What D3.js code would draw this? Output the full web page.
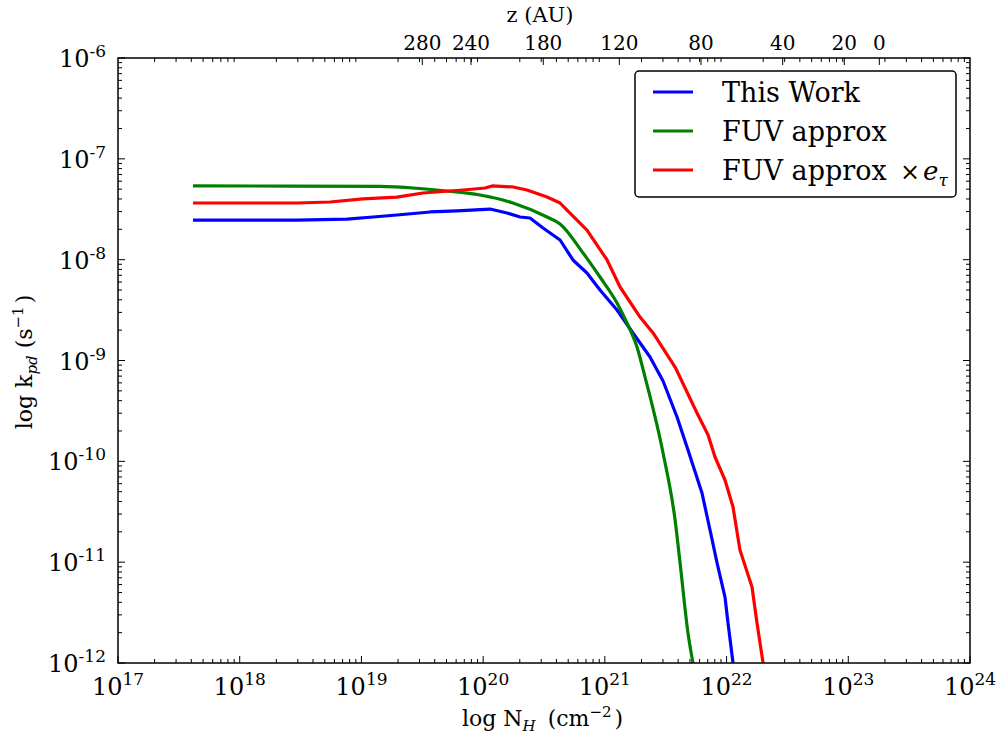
<!DOCTYPE html>
<html>
<head>
<meta charset="utf-8">
<script src="https://cdn.jsdelivr.net/npm/d3@7"></script>
<style>
  body { margin: 0; background: #fff; }
  svg text { font-family: "DejaVu Serif", serif; fill: #000; }
</style>
</head>
<body>
<svg id="chart" width="996" height="738"></svg>
<script>
// ---- data (log10 values) ----
const blueLogN  = [17.616,18.471,18.882,19.095,19.292,19.564,19.785,20.056,20.196,20.303,20.385,20.492,20.632,20.738,20.853,20.960,21.100,21.231,21.371,21.478,21.593,21.683,21.798,21.864,21.922,21.987,22.012,22.053];
const blueLogK  = [-7.607,-7.607,-7.597,-7.577,-7.557,-7.527,-7.517,-7.498,-7.537,-7.577,-7.587,-7.686,-7.805,-8.003,-8.132,-8.301,-8.499,-8.727,-8.965,-9.203,-9.560,-9.888,-10.314,-10.681,-11.008,-11.346,-11.604,-12.0];
const greenLogN = [17.616,18.400,19.153,19.450,19.703,19.974,20.245,20.525,20.632,20.821,20.960,21.100,21.182,21.264,21.330,21.478,21.577,21.618,21.683,21.724];
const greenLogK = [-7.269,-7.270,-7.274,-7.292,-7.319,-7.359,-7.438,-7.577,-7.646,-7.934,-8.172,-8.430,-8.628,-8.866,-9.164,-9.917,-10.582,-11.008,-11.703,-12.0];
const redLogN   = [17.616,18.471,18.742,19.013,19.292,19.506,19.835,20.015,20.073,20.245,20.360,20.525,20.632,20.689,20.853,21.018,21.125,21.289,21.396,21.577,21.757,21.848,21.905,21.987,22.053,22.110,22.209,22.250,22.300];
const redLogK   = [-7.438,-7.438,-7.428,-7.398,-7.379,-7.339,-7.309,-7.289,-7.269,-7.279,-7.309,-7.379,-7.438,-7.508,-7.706,-8.003,-8.271,-8.569,-8.727,-9.065,-9.521,-9.739,-9.957,-10.185,-10.453,-10.880,-11.246,-11.604,-12.0];

const seriesNames  = ["This Work", "FUV approx", "FUV approx"];
const seriesColors = ["#0000ff", "#008000", "#ff0000"];

const xTickExps = [17,18,19,20,21,22,23,24];
const yTickExps = [-6,-7,-8,-9,-10,-11,-12];
// top axis: z (AU) labels and their log10(N_H) positions
const zTickLabels = ["280","240","180","120","80","40","20","0"];
const zTickLogN   = [19.500,19.900,20.494,21.119,21.790,22.461,22.967,23.255];

// ---- layout ----
const L = 118, R = 970, T = 58, B = 663;
const svg = d3.select("#chart");
const x = d3.scaleLog().domain([1e17, 1e24]).range([L, R]);
const y = d3.scaleLog().domain([1e-12, 1e-6]).range([B, T]);

svg.append("defs").append("clipPath").attr("id","clip")
  .append("rect").attr("x",L).attr("y",T).attr("width",R-L).attr("height",B-T);

// minor tick values
const xMinor = [], yMinor = [];
for (let e = 17; e < 24; e++) for (let m = 2; m <= 9; m++) xMinor.push(m * Math.pow(10, e));
for (let e = -12; e < -6; e++) for (let m = 2; m <= 9; m++) yMinor.push(m * Math.pow(10, e));

const tickG = svg.append("g").attr("stroke", "#000").attr("stroke-width", 1);
const MAJ = 7, MIN = 4;
xTickExps.forEach(e => { const px = x(Math.pow(10,e)); tickG.append("line").attr("x1",px).attr("x2",px).attr("y1",B).attr("y2",B-MAJ); });
xMinor.forEach(v => { const px = x(v); tickG.append("line").attr("x1",px).attr("x2",px).attr("y1",B).attr("y2",B-MIN); });
xMinor.forEach(v => { const px = x(v); tickG.append("line").attr("x1",px).attr("x2",px).attr("y1",T).attr("y2",T+MIN); });
zTickLogN.forEach(l => { const px = x(Math.pow(10,l)); tickG.append("line").attr("x1",px).attr("x2",px).attr("y1",T).attr("y2",T+MAJ); });
yTickExps.forEach(e => { const py = y(Math.pow(10,e));
  tickG.append("line").attr("x1",L).attr("x2",L+MAJ).attr("y1",py).attr("y2",py);
  tickG.append("line").attr("x1",R).attr("x2",R-MAJ).attr("y1",py).attr("y2",py); });
yMinor.forEach(v => { const py = y(v);
  tickG.append("line").attr("x1",L).attr("x2",L+MIN).attr("y1",py).attr("y2",py);
  tickG.append("line").attr("x1",R).attr("x2",R-MIN).attr("y1",py).attr("y2",py); });

// ---- curves ----
const lineLin = d3.line().x(d => x(Math.pow(10, d[0]))).y(d => y(Math.pow(10, d[1])));
const lineSmooth = d3.line().curve(d3.curveMonotoneX)
  .x(d => x(Math.pow(10, d[0]))).y(d => y(Math.pow(10, d[1])));
const series = [
  d3.zip(blueLogN, blueLogK),
  d3.zip(greenLogN, greenLogK),
  d3.zip(redLogN, redLogK)
];
const curveG = svg.append("g").attr("clip-path", "url(#clip)");
series.forEach((s, i) => {
  curveG.append("path").datum(s).attr("d", i === 1 ? lineSmooth : lineLin)
    .attr("fill","none").attr("stroke", seriesColors[i]).attr("stroke-width", 3.2)
    .attr("stroke-linejoin","round");
});

// frame
svg.append("rect").attr("x",L).attr("y",T).attr("width",R-L).attr("height",B-T)
  .attr("fill","none").attr("stroke","#000").attr("stroke-width",1.5);

// ---- tick labels ----
xTickExps.forEach(e => {
  const t = svg.append("text").attr("x", x(Math.pow(10,e))).attr("y", 695)
    .attr("text-anchor","middle").attr("font-size", 24);
  t.append("tspan").text("10");
  t.append("tspan").attr("font-size", 17).attr("dy", -10).text(String(e));
});
yTickExps.forEach(e => {
  const t = svg.append("text").attr("x", 106).attr("y", y(Math.pow(10,e)) + 9)
    .attr("text-anchor","end").attr("font-size", 24);
  t.append("tspan").text("10");
  t.append("tspan").attr("font-size", 17).attr("dy", -10).text(String(e));
});
zTickLabels.forEach((lab, i) => {
  svg.append("text").attr("x", x(Math.pow(10, zTickLogN[i]))).attr("y", 50)
    .attr("text-anchor","middle").attr("font-size", 20).text(lab);
});

// ---- axis labels ----
const xl = svg.append("text").attr("x", 462).attr("y", 726).attr("font-size", 22);
xl.append("tspan").text("log N");
xl.append("tspan").attr("font-size", 15).attr("font-style","italic").attr("dy", 5).text("H");
xl.append("tspan").attr("dy", -5).attr("dx", 12).text("(cm");
xl.append("tspan").attr("font-size", 15).attr("dy", -9).text("\u22122");
xl.append("tspan").attr("dy", 9).attr("dx", 3).text(")");

const yl = svg.append("text").attr("transform","translate(32,362) rotate(-90)")
  .attr("text-anchor","middle").attr("font-size", 22);
yl.append("tspan").text("log k");
yl.append("tspan").attr("font-size", 15).attr("font-style","italic").attr("dy", 5).text("pd");
yl.append("tspan").attr("dy", -5).text(" (s");
yl.append("tspan").attr("font-size", 15).attr("dy", -9).text("\u22121");
yl.append("tspan").attr("dy", 9).attr("dx", 3).text(")");

svg.append("text").attr("x", 540).attr("y", 22).attr("text-anchor","middle").attr("font-size", 21).text("z (AU)");

// ---- legend ----
const lg = svg.append("g");
lg.append("rect").attr("x",635).attr("y",71).attr("width",321).attr("height",126)
  .attr("rx",4).attr("ry",4).attr("fill","#fff").attr("stroke","#000").attr("stroke-width",1.5);
const rowY = [92, 131, 170];
seriesNames.forEach((name, i) => {
  lg.append("line").attr("x1",653).attr("x2",693).attr("y1",rowY[i]).attr("y2",rowY[i])
    .attr("stroke", seriesColors[i]).attr("stroke-width", 3.2);
  lg.append("text").attr("x", 722).attr("y", rowY[i] + 10).attr("font-size", 27).text(name);
});
lg.append("text").attr("x", 900).attr("y", rowY[2] + 10).attr("font-size", 24).text("\u00d7");
const et = lg.append("text").attr("x", 923).attr("y", rowY[2] + 10).attr("font-size", 26).attr("font-style","italic");
et.append("tspan").text("e");
et.append("tspan").attr("font-size", 17).attr("dy", 6).text("\u03c4");
</script>
</body>
</html>
